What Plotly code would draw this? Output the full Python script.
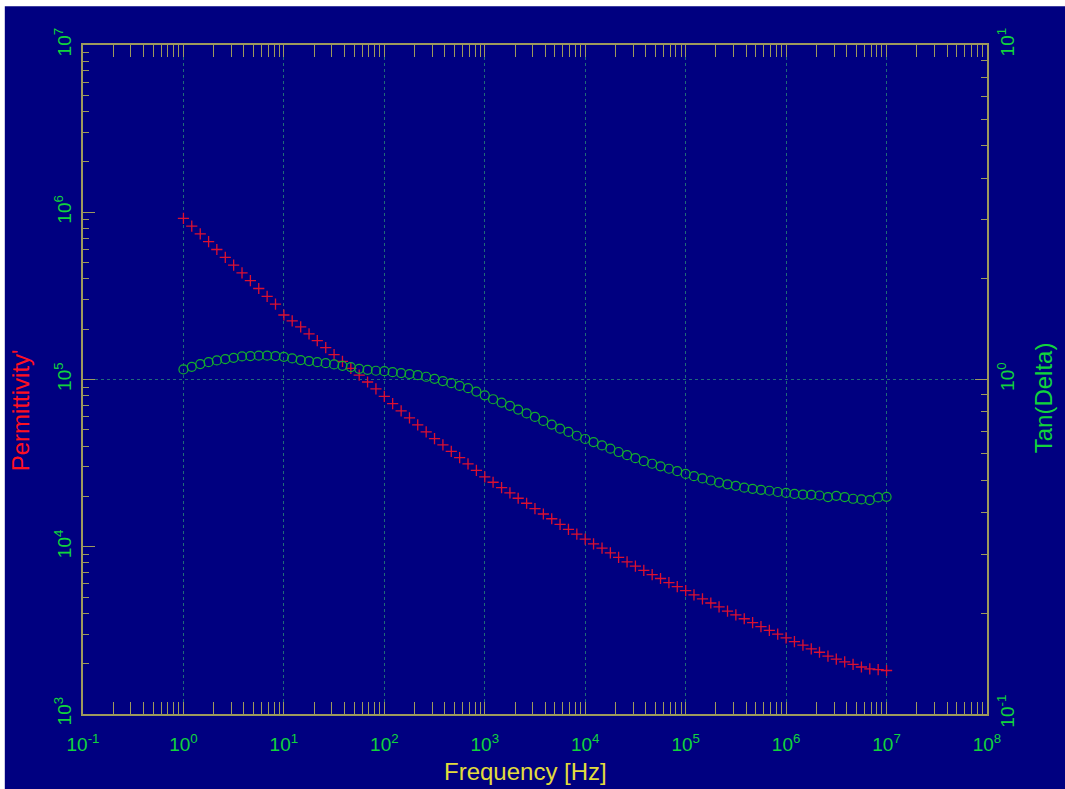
import plotly.graph_objects as go

# ---------------- data ----------------
frequency_hz = [
    1.0, 1.21, 1.47, 1.78, 2.15, 2.61, 3.16, 3.83, 4.64, 5.62, 6.81, 8.25,
    10.0, 12.1, 14.7, 17.8, 21.5, 26.1, 31.6, 38.3, 46.4, 56.2, 68.1, 82.5,
    100.0, 121, 147, 178, 215, 261, 316, 383, 464, 562, 681, 825,
    1.0e3, 1.21e3, 1.47e3, 1.78e3, 2.15e3, 2.61e3, 3.16e3, 3.83e3, 4.64e3, 5.62e3, 6.81e3, 8.25e3,
    1.0e4, 1.21e4, 1.47e4, 1.78e4, 2.15e4, 2.61e4, 3.16e4, 3.83e4, 4.64e4, 5.62e4, 6.81e4, 8.25e4,
    1.0e5, 1.21e5, 1.47e5, 1.78e5, 2.15e5, 2.61e5, 3.16e5, 3.83e5, 4.64e5, 5.62e5, 6.81e5, 8.25e5,
    1.0e6, 1.21e6, 1.47e6, 1.78e6, 2.15e6, 2.61e6, 3.16e6, 3.83e6, 4.64e6, 5.62e6, 6.81e6, 8.25e6,
    1.0e7,
]

permittivity = [
    920000, 826000, 743000, 667000, 599000, 538000, 483000, 434000, 390000, 350000, 314000, 282000,
    243000, 223900, 206100, 187500, 170600, 154900, 140900, 128200, 116700, 106200, 96600, 87900,
    79300, 71800, 65000, 59000, 53600, 48600, 44300, 40600, 37200, 34100, 31300, 28600,
    26200, 24300, 22600, 21000, 19500, 18200, 16900, 15700, 14700, 13600, 12700, 11900,
    11100, 10400, 9800, 9200, 8650, 8130, 7660, 7230, 6820, 6460, 6100, 5770,
    5460, 5150, 4880, 4610, 4370, 4120, 3910, 3710, 3520, 3330, 3160, 3000,
    2850, 2710, 2580, 2450, 2340, 2220, 2130, 2050, 1980, 1910, 1860, 1840,
    1820,
]

tan_delta = [
    1.072, 1.091, 1.112, 1.127, 1.140, 1.151, 1.161, 1.172, 1.175, 1.178, 1.178, 1.175,
    1.169, 1.156, 1.143, 1.135, 1.127, 1.119, 1.109, 1.099, 1.089, 1.076, 1.069, 1.062,
    1.059, 1.052, 1.045, 1.038, 1.030, 1.019, 1.005, 0.989, 0.975, 0.957, 0.942, 0.920,
    0.897, 0.873, 0.853, 0.834, 0.813, 0.792, 0.773, 0.752, 0.733, 0.713, 0.697, 0.679,
    0.664, 0.650, 0.635, 0.621, 0.607, 0.594, 0.582, 0.570, 0.560, 0.550, 0.541, 0.532,
    0.522, 0.514, 0.506, 0.499, 0.492, 0.486, 0.481, 0.475, 0.471, 0.468, 0.465, 0.461,
    0.458, 0.455, 0.453, 0.452, 0.450, 0.445, 0.449, 0.445, 0.440, 0.438, 0.436, 0.444,
    0.446,
]

x_tick_vals = [1e-1, 1e0, 1e1, 1e2, 1e3, 1e4, 1e5, 1e6, 1e7, 1e8]
x_tick_text = ["10<sup>-1</sup>", "10<sup>0</sup>", "10<sup>1</sup>", "10<sup>2</sup>", "10<sup>3</sup>",
               "10<sup>4</sup>", "10<sup>5</sup>", "10<sup>6</sup>", "10<sup>7</sup>", "10<sup>8</sup>"]
y_tick_vals = [1e3, 1e4, 1e5, 1e6, 1e7]
y_tick_text = ["10<sup>3</sup>", "10<sup>4</sup>", "10<sup>5</sup>", "10<sup>6</sup>", "10<sup>7</sup>"]
y2_tick_vals = [1e-1, 1e0, 1e1]
y2_tick_text = ["10<sup>-1</sup>", "10<sup>0</sup>", "10<sup>1</sup>"]


def minor_positions(major_vals):
    """2..9 x each decade between consecutive major ticks (tick placement only)."""
    out = []
    for v in major_vals[:-1]:
        out.extend(v * m for m in range(2, 10))
    return out


# ---------------- styling ----------------
BG = "#000080"
AXIS = "#9e9a5c"
GRID = "#1f6a78"
LABEL_GREEN = "#12d43c"
RED = "#dc1030"
CIRCLE_GREEN = "#14b02c"
YELLOW = "#e2dc3c"
FONT = "Liberation Sans, Arial, sans-serif"

fig = go.Figure()
fig.add_trace(go.Scatter(
    x=frequency_hz, y=permittivity, mode="markers", name="Permittivity'",
    marker=dict(symbol="cross-thin", size=8, line=dict(color=RED, width=1.3), color=RED),
    yaxis="y",
))
fig.add_trace(go.Scatter(
    x=frequency_hz, y=tan_delta, mode="markers", name="Tan(Delta)",
    marker=dict(symbol="circle-open", size=9, line=dict(color=CIRCLE_GREEN, width=1.2), color=CIRCLE_GREEN),
    yaxis="y2",
))

common_axis = dict(
    showline=True, linecolor=AXIS, linewidth=1.5,
    ticks="inside", ticklen=12, tickcolor=AXIS, tickwidth=1,
    tickfont=dict(family=FONT, size=19, color=LABEL_GREEN),
    zeroline=False,
)


def minor(vals):
    return dict(tickmode="array", tickvals=minor_positions(vals), ticks="inside",
                ticklen=6, tickcolor=AXIS, tickwidth=1, showgrid=False)


fig.update_layout(
    width=1065, height=789,
    paper_bgcolor=BG, plot_bgcolor=BG,
    margin=dict(l=83, r=78, t=45, b=75),
    showlegend=False,
    xaxis=dict(
        type="log", range=[-1, 8], tickvals=x_tick_vals, ticktext=x_tick_text,
        mirror="allticks", showgrid=True, gridcolor=GRID, griddash="dot", gridwidth=1,
        ticklabelstandoff=12,
        minor=minor(x_tick_vals),
        **common_axis,
    ),
    yaxis=dict(
        type="log", range=[3, 7], tickvals=y_tick_vals, ticktext=y_tick_text,
        tickangle=-90, showgrid=False, ticklabelstandoff=3,
        minor=minor(y_tick_vals),
        **common_axis,
    ),
    yaxis2=dict(
        type="log", range=[-1, 1], tickvals=y2_tick_vals, ticktext=y2_tick_text,
        overlaying="y", side="right", tickangle=-90, ticklabelstandoff=2,
        showgrid=True, gridcolor=GRID, griddash="dot", gridwidth=1,
        minor=minor(y2_tick_vals),
        **common_axis,
    ),
    annotations=[
        dict(text="Frequency [Hz]", xref="paper", yref="paper", x=0.489, y=-0.086,
             showarrow=False, xanchor="center", yanchor="middle",
             font=dict(family=FONT, size=24, color=YELLOW)),
        dict(text="Permittivity'", xref="paper", yref="paper", x=-0.0697, y=0.454,
             showarrow=False, xanchor="center", yanchor="middle", textangle=-90,
             font=dict(family=FONT, size=24, color="#ff1020")),
        dict(text="Tan(Delta)", xref="paper", yref="paper", x=1.062, y=0.472,
             showarrow=False, xanchor="center", yanchor="middle", textangle=-90,
             font=dict(family=FONT, size=24, color=LABEL_GREEN)),
    ],
    shapes=[
        dict(type="rect", xref="paper", yref="paper", x0=-0.1, x1=-0.0865, y0=-0.2, y1=1.2,
             fillcolor="white", line=dict(width=0), layer="above"),
        dict(type="rect", xref="paper", yref="paper", x0=-0.1, x1=1.2, y0=1.058, y1=1.2,
             fillcolor="white", line=dict(width=0), layer="above"),
    ],
)

fig.write_html("out.html")
